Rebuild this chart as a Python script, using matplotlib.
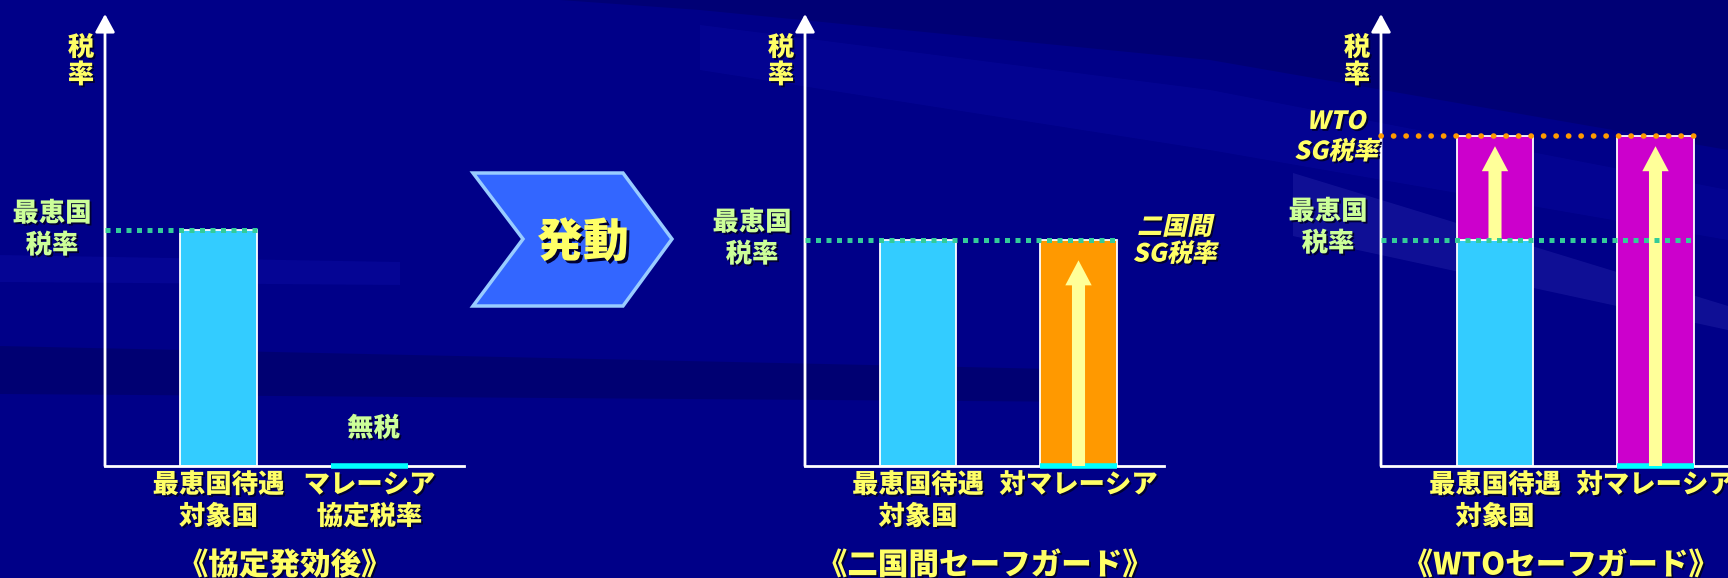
import matplotlib.pyplot as plt
import matplotlib.patheffects as pe
from matplotlib.patches import Polygon
from matplotlib.transforms import Affine2D
from matplotlib.colors import to_rgba

W, H = 1728, 578
plt.rcParams['font.family'] = ['Noto Sans CJK JP', 'DejaVu Sans']
plt.rcParams['font.weight'] = 'heavy'

# tax-rate levels (arbitrary units, baseline = 0)
mfn_rate = 10.0
bilateral_sg_rate = 10.0
wto_sg_rate = 14.6
fta_rate = 0.0

labels_p1 = ['最恵国待遇\n対象国', 'マレーシア\n協定税率']
labels_p23 = ['最恵国待遇\n対象国', '対マレーシア']
titles = ['《協定発効後》', '《二国間セーフガード》', '《WTOセーフガード》']

p1_heights = [mfn_rate, fta_rate]
p2_heights = [mfn_rate, bilateral_sg_rate]
p3_base = [mfn_rate, fta_rate]
p3_sg = [wto_sg_rate - mfn_rate, wto_sg_rate - fta_rate]

p2_arrow_from = [fta_rate]
p2_arrow_to = [9.1]
p3_arrow_from = [mfn_rate, fta_rate]
p3_arrow_to = [14.15, 14.15]

YEL = '#FFFF66'
GRN = '#CCFF99'
CYAN = '#33CCFF'
ORANGE = '#FF9900'
MAGENTA = '#CC00CC'
DOT_GREEN = '#33CC99'
ARROW_YEL = '#FFFF99'


class Slant(pe.AbstractPathEffect):
    # draws text path (optionally slanted / shadowed)
    def __init__(self, offset=(0, 0), color=None, slant=0):
        super().__init__(offset)
        self.color = color
        self.slant = slant

    def draw_path(self, renderer, gc, tpath, affine, rgbFace=None):
        gc0 = renderer.new_gc()
        gc0.copy_properties(gc)
        face = to_rgba(self.color) if self.color is not None else rgbFace
        tr = Affine2D().skew_deg(self.slant, 0) + affine + self._offset_transform(renderer)
        renderer.draw_path(gc0, tpath, tr, face)
        gc0.restore()


def fx(slant=0):
    return [Slant((1.3, -1.3), '#000033', slant), Slant((0, 0), None, slant)]


fig = plt.figure(figsize=(W / 100, H / 100), dpi=100)
fig.patch.set_facecolor('#000088')

# background sweeps + chevron
bg = fig.add_axes([0, 0, 1, 1])
bg.set_xlim(0, W)
bg.set_ylim(H, 0)
bg.axis('off')
bg.add_patch(Polygon([(560, 0), (1728, 0), (1728, 150), (1210, 60), (700, 10)],
                     closed=True, color='#000066', alpha=0.55, lw=0))
bg.add_patch(Polygon([(700, 25), (1210, 90), (1728, 190), (1728, 240), (1210, 150), (700, 70)],
                     closed=True, color='#0a0aa0', alpha=0.4, lw=0))
bg.add_patch(Polygon([(1293, 173), (1728, 306), (1728, 330), (1293, 236)],
                     closed=True, color='#3535b5', alpha=0.3, lw=0))
bg.add_patch(Polygon([(0, 346), (1100, 370), (1100, 402), (0, 394)],
                     closed=True, color='#00006a', alpha=0.7, lw=0))
bg.add_patch(Polygon([(0, 255), (400, 262), (400, 285), (0, 282)],
                     closed=True, color='#0a0aa0', alpha=0.5, lw=0))
chev = [(473, 173), (623, 173), (672, 239), (623, 306), (473, 306), (523, 239)]
bg.add_patch(Polygon(chev, closed=True, facecolor='#3366FF', edgecolor='#99CCFF', lw=2.5))
bg.text(583, 243, '発動', color=YEL, fontsize=33, ha='center', va='center',
        path_effects=[Slant((2, -2), '#000033'), Slant()])


def make_ax(left, sp, off, ytop, title):
    ax = fig.add_axes([left / W, (H - 466) / H, 359 / W, 452 / H])
    x0 = -off / sp
    ax.set_xlim(x0, x0 + 359 / sp)
    ax.set_ylim(0, ytop)
    ax.patch.set_visible(False)
    for s in ['top', 'right', 'left']:
        ax.spines[s].set_visible(False)
    ax.spines['bottom'].set_color('white')
    ax.spines['bottom'].set_linewidth(2)
    ax.set_yticks([])
    ax.tick_params(axis='x', length=0, pad=3, colors=YEL, labelsize=19)
    ax.annotate('', xy=(x0, ytop), xytext=(x0, 0),
                arrowprops=dict(arrowstyle='-|>,head_length=0.55,head_width=0.3',
                                color='white', lw=2, mutation_scale=20,
                                shrinkA=0, shrinkB=0), annotation_clip=False)
    ax.annotate('税\n率', xy=(0, 1), xycoords='axes fraction', xytext=(-24, -47),
                textcoords='offset pixels', ha='center', va='center', color=YEL,
                fontsize=19, linespacing=0.95, path_effects=fx())
    ax.annotate(title, xy=(0.5, 0), xycoords='axes fraction', xytext=(0, -99),
                textcoords='offset pixels', ha='center', va='center', color=YEL,
                fontsize=22, path_effects=fx(), annotation_clip=False)
    return ax, x0


def style_ticks(ax, x, labels):
    ax.set_xticks(x, labels, linespacing=1.15)
    for t in ax.get_xticklabels():
        t.set_path_effects(fx())
        t.set_verticalalignment('top')


def mfn_label(ax, dy):
    ax.annotate('最恵国\n税率', xy=(0, mfn_rate), xycoords=('axes fraction', 'data'),
                xytext=(-53, dy), textcoords='offset pixels', ha='center', va='center',
                color=GRN, fontsize=19, linespacing=1.15, path_effects=fx())


def dotted(ax, x0, x1, y, color, ls, lw, cap):
    ax.plot([x0, x1], [y, y], color=color, lw=lw, linestyle=ls, zorder=5,
            dash_capstyle=cap, clip_on=False)


def cyan_base(ax, xi, w):
    ax.hlines(fta_rate, xi - w / 2, xi + w / 2, color='#00FFFF', lw=4, zorder=4, clip_on=False)


def yellow_arrows(ax, xs, y_from, y_to):
    for xi, a, b in zip(xs, y_from, y_to):
        ax.annotate('', xy=(xi, b), xytext=(xi, a),
                    arrowprops=dict(arrowstyle='simple,head_length=0.9,head_width=0.95,tail_width=0.47',
                                    color=ARROW_YEL, lw=0, mutation_scale=20,
                                    shrinkA=0, shrinkB=0), zorder=4)


x = [0, 1]

# panel 1
ax1, x01 = make_ax(105, 151, 113.5, 19.15, titles[0])
w1 = 0.51
ax1.bar(x[:1], p1_heights[:1], w1, color=CYAN, edgecolor='white', linewidth=1.3, zorder=2)
cyan_base(ax1, x[1], w1)
dotted(ax1, x01, x[0] + w1 / 2, mfn_rate, DOT_GREEN, (0, (1, 1.1)), 3.6, 'butt')
style_ticks(ax1, x, labels_p1)
mfn_label(ax1, 1)
ax1.annotate('無税', xy=(x[1], fta_rate), xytext=(4, 38), textcoords='offset pixels',
             ha='center', va='center', color=GRN, fontsize=19, path_effects=fx())

# panel 2
ax2, x02 = make_ax(805, 160.5, 113, 20.0, titles[1])
w2 = 0.474
ax2.bar(x, p2_heights, w2, color=[CYAN, ORANGE], edgecolor='white', linewidth=1.3, zorder=2)
cyan_base(ax2, x[1], w2)
yellow_arrows(ax2, x[1:], p2_arrow_from, p2_arrow_to)
dotted(ax2, x02, x[1] + w2 / 2, mfn_rate, DOT_GREEN, (0, (1, 1.1)), 3.6, 'butt')
style_ticks(ax2, x, labels_p23)
mfn_label(ax2, 2)
ax2.annotate('二国間\nSG税率', xy=(x[1] + w2 / 2, bilateral_sg_rate), xytext=(58, 0),
             textcoords='offset pixels', ha='center', va='center', color=YEL,
             fontsize=18, linespacing=1.05, path_effects=fx(12), annotation_clip=False)

# panel 3
ax3, x03 = make_ax(1381, 160.5, 114, 20.0, titles[2])
ax3.bar(x, p3_base, w2, color=CYAN, edgecolor='white', linewidth=1.3, zorder=2)
ax3.bar(x, p3_sg, w2, bottom=p3_base, color=MAGENTA, edgecolor='white', linewidth=1.3, zorder=2)
cyan_base(ax3, x[1], w2)
yellow_arrows(ax3, x, p3_arrow_from, p3_arrow_to)
dotted(ax3, x03, x[1] + w2 / 2, mfn_rate, DOT_GREEN, (0, (1, 1.1)), 3.6, 'butt')
dotted(ax3, x03, x[1] + w2 / 2, wto_sg_rate, ORANGE, (0, (0.05, 2.2)), 4, 'round')
style_ticks(ax3, x, labels_p23)
mfn_label(ax3, 13)
ax3.annotate('WTO\nSG税率', xy=(0, wto_sg_rate), xycoords=('axes fraction', 'data'),
             xytext=(-45, 0), textcoords='offset pixels', ha='center', va='center',
             color=YEL, fontsize=18, linespacing=1.2, path_effects=fx(12))

plt.savefig('out.png', dpi=100, facecolor=fig.get_facecolor())
